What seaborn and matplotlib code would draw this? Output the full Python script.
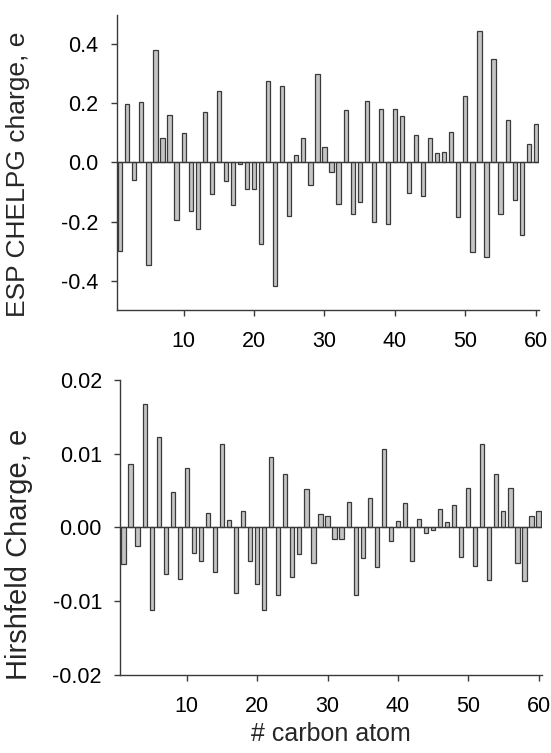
import numpy as np
import pandas as pd
import seaborn as sns
import matplotlib
matplotlib.use('Agg')
import matplotlib.pyplot as plt
from matplotlib.ticker import FormatStrFormatter

atoms = list(range(1, 61))

esp_chelpg = [-0.300, 0.198, -0.060, 0.204, -0.349, 0.380, 0.084, 0.160, -0.196, 0.101,
              -0.163, -0.227, 0.172, -0.108, 0.244, -0.063, -0.143, -0.004, -0.091, -0.089,
              -0.276, 0.275, -0.419, 0.260, -0.180, 0.027, 0.083, -0.075, 0.300, 0.053,
              -0.033, -0.142, 0.179, -0.173, -0.134, 0.209, -0.203, 0.181, -0.207, 0.182,
              0.157, -0.104, 0.092, -0.114, 0.084, 0.032, 0.036, 0.105, -0.185, 0.227,
              -0.302, 0.447, -0.322, 0.351, -0.173, 0.143, -0.128, -0.247, 0.062, 0.132]

hirshfeld = [-0.0050, 0.0086, -0.0025, 0.0168, -0.0112, 0.0122, -0.0063, 0.0048, -0.0070, 0.0080,
             -0.0034, -0.0045, 0.0019, -0.0060, 0.0113, 0.0010, -0.0089, 0.0022, -0.0045, -0.0077,
             -0.0112, 0.0095, -0.0091, 0.0073, -0.0067, -0.0036, 0.0052, -0.0048, 0.0018, 0.0015,
             -0.0015, -0.0016, 0.0035, -0.0092, -0.0042, 0.0040, -0.0053, 0.0107, -0.0018, 0.0009,
             0.0033, -0.0046, 0.0011, -0.0007, -0.0003, 0.0025, 0.0007, 0.0030, -0.0040, 0.0054,
             -0.0052, 0.0113, -0.0071, 0.0072, 0.0023, 0.0054, -0.0048, -0.0072, 0.0016, 0.0023]

df = pd.DataFrame({'atom': atoms, 'esp': esp_chelpg, 'hirsh': hirshfeld})

sns.set_style('ticks')
plt.rcParams['font.family'] = ['Liberation Sans', 'DejaVu Sans']
plt.rcParams['axes.unicode_minus'] = False

fig = plt.figure(figsize=(5.51, 7.53), dpi=100)
ax1 = fig.add_axes([0.2118, 0.5883, 0.767, 0.3918])
ax2 = fig.add_axes([0.2178, 0.1036, 0.766, 0.3918])

edge = '#3a3a3a'
for ax, col in [(ax1, 'esp'), (ax2, 'hirsh')]:
    sns.barplot(data=df, x='atom', y=col, native_scale=True, width=0.6,
                color='#c4c4c4', edgecolor=edge, linewidth=0.9, saturation=1, ax=ax)
    ax.axhline(0, color=edge, lw=1.0, zorder=3)
    ax.set_xlim(0.5, 60.5)
    ax.set_xticks([10, 20, 30, 40, 50, 60])
    sns.despine(ax=ax)
    for s in ['left', 'bottom']:
        ax.spines[s].set_color(edge)
        ax.spines[s].set_linewidth(1.0)
    ax.tick_params(axis='both', colors=edge, labelcolor='black', labelsize=15.5,
                   length=4, width=1.0)
    ax.tick_params(axis='y', pad=9)
    ax.tick_params(axis='x', pad=11)
    ax.set_xlabel('')

ax1.set_ylim(-0.5, 0.5)
ax1.set_yticks([-0.4, -0.2, 0.0, 0.2, 0.4])
ax1.yaxis.set_major_formatter(FormatStrFormatter('%.1f'))
ax1.set_ylabel('ESP CHELPG charge, e', fontsize=19)
ax1.yaxis.set_label_coords(-0.205, 0.46)

ax2.set_ylim(-0.02, 0.02)
ax2.set_yticks([-0.02, -0.01, 0.0, 0.01, 0.02])
ax2.yaxis.set_major_formatter(FormatStrFormatter('%.2f'))
ax2.set_ylabel('Hirshfeld Charge, e', fontsize=21)
ax2.yaxis.set_label_coords(-0.207, 0.41)
ax2.set_xlabel('# carbon atom', fontsize=18, labelpad=4)

fig.savefig('out.png', dpi=100)
